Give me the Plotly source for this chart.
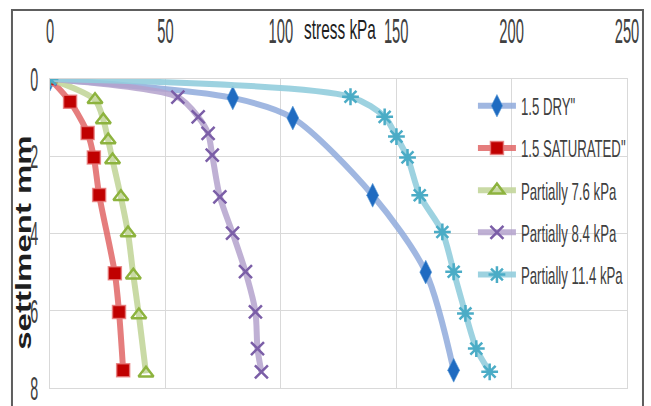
import plotly.graph_objects as go

# ---- data (stress kPa, settlement mm) ----
dry_stress = [0, 79.2, 105.2, 139.8, 162.8, 174.9]
dry_settle = [0, 0.49, 1.01, 3.01, 5.0, 7.54]

sat_stress = [0, 8.7, 16.3, 19.0, 21.3, 28.1, 29.9, 31.7]
sat_settle = [0, 0.59, 1.40, 2.03, 3.0, 5.03, 6.03, 7.54]

p76_stress = [0, 19.5, 23.1, 25.2, 27.1, 30.7, 33.8, 36.1, 38.5, 41.6]
p76_settle = [0, 0.54, 1.06, 1.58, 2.10, 3.05, 3.99, 5.08, 6.11, 7.62]

p84_stress = [0, 55.4, 64.2, 68.5, 70.3, 73.6, 79.1, 84.7, 89.0, 89.9, 91.6]
p84_settle = [0, 0.47, 0.98, 1.41, 1.97, 3.05, 3.99, 4.99, 6.03, 6.98, 7.58]

p114_stress = [0, 130.2, 145.0, 150.1, 154.9, 160.2, 170.0, 174.9, 180.0, 184.7, 190.5]
p114_settle = [0, 0.46, 0.98, 1.49, 2.03, 3.01, 3.96, 4.99, 6.07, 6.98, 7.58]

series_names = ['1.5 DRY"', '1.5 SATURATED"', 'Partially 7.6 kPa',
                'Partially 8.4 kPa', 'Partially 11.4 kPa']
x_ticks = [0, 50, 100, 150, 200, 250]
y_ticks = [0, 2, 4, 6, 8]

FONT = "Liberation Sans, Arial, sans-serif"
TXT = "#404040"
GRID = "#D9D9D9"

styles = [
    dict(line="rgba(143,170,220,0.85)", marker=dict(symbol="diamond-tall", size=17, color="#1F6BC1",
                                                    line=dict(color="rgba(91,155,213,0.6)", width=1))),
    dict(line="rgba(224,102,102,0.85)", marker=dict(symbol="square", size=13, color="#C00000",
                                                    line=dict(color="rgba(230,120,120,0.8)", width=1.5))),
    dict(line="rgba(195,214,155,0.9)", marker=dict(symbol="triangle-up-open", size=13, color="#8DB33E",
                                                   line=dict(color="#8DB33E", width=2.5))),
    dict(line="rgba(180,162,205,0.85)", marker=dict(symbol="x-thin-open", size=13, color="#7B5EA7",
                                                    line=dict(color="#7B5EA7", width=2.5))),
    dict(line="rgba(146,205,221,0.9)", marker=dict(symbol="asterisk-open", size=14, color="#4BACC6",
                                                   line=dict(color="#4BACC6", width=2.5))),
]

data = [(dry_stress, dry_settle), (sat_stress, sat_settle), (p76_stress, p76_settle),
        (p84_stress, p84_settle), (p114_stress, p114_settle)]

fig = go.Figure()
for i, ((xs, ys), name, st) in enumerate(zip(data, series_names, styles)):
    fig.add_trace(go.Scatter(
        x=xs, y=ys, name=name, mode="lines+markers",
        line=dict(color=st["line"], width=6, shape="spline", smoothing=0.8),
        marker=st["marker"], legendgroup=str(i),
    ))

fig.update_layout(
    width=651, height=406,
    margin=dict(l=50, r=24, t=79, b=18, autoexpand=False),
    paper_bgcolor="white", plot_bgcolor="white",
    font=dict(family=FONT, color=TXT),
    showlegend=True,
    legend=dict(x=0.733, y=0.985, xanchor="left", yanchor="top",
                bgcolor="rgba(0,0,0,0)", font=dict(size=24, family=FONT, color=TXT),
                tracegroupgap=8, itemwidth=38),
    xaxis=dict(side="top", range=[0, 250], tickvals=x_ticks, ticktext=[str(v) for v in x_ticks],
               showgrid=True, gridcolor=GRID, gridwidth=1, zeroline=False, automargin=False,
               showline=True, linecolor=GRID, mirror=True, ticks="", ticklabeloverflow="allow",
               tickfont=dict(size=35, family=FONT, color=TXT), ticklabelstandoff=21),
    yaxis=dict(range=[8, 0], tickvals=y_ticks, ticktext=[str(v) for v in y_ticks],
               showgrid=True, gridcolor=GRID, gridwidth=1, zeroline=False, automargin=False,
               showline=True, linecolor=GRID, mirror=True, ticks="", ticklabeloverflow="allow",
               tickfont=dict(size=34, family=FONT, color=TXT), ticklabelstandoff=4),
    annotations=[
        dict(text="stress kPa", xref="paper", yref="paper", x=0.504, y=1.158,
             showarrow=False, font=dict(size=27, family=FONT, color="#1E1E1E"),
             xanchor="center", yanchor="middle"),
        dict(text="<b>settlment mm</b>", xref="paper", yref="paper", x=-0.045, y=0.47,
             textangle=-90, showarrow=False,
             font=dict(size=33, family=FONT, color="#1E1E1E"),
             xanchor="center", yanchor="middle"),
    ],
    shapes=[
        dict(type="rect", xref="paper", yref="paper", x0=-0.0659, x1=1.0277, y0=-0.12, y1=1.223,
             line=dict(color="#5E5E5E", width=2), fillcolor="rgba(0,0,0,0)", layer="below"),
    ],
)

# The reference renders its text tall and narrow; compress text horizontally
# (in screen space) around its own anchor point. Text stays real SVG text.
post_js = r"""
(function(){
  document.documentElement.style.margin = '0';
  document.body.style.margin = '0';
  document.body.style.padding = '0';
  var gd = document.getElementById('{plot_id}');
  if (!gd) return;
  var SUF = /\s*translate\([^)]*\) scale\([^)]*\) translate\([^)]*\)\s*$/;
  function apply(sel, s, sTitle){
    gd.querySelectorAll(sel).forEach(function(t){
      var T = (t.getAttribute('transform') || '').replace(SUF, '');
      if ((t.textContent || '').indexOf('settlment') >= 0) {
        // rotated title: its local y axis is horizontal on screen
        t.setAttribute('transform', T);
        var b = t.getBBox();
        var cy = b.y + b.height / 2;
        t.setAttribute('transform', (T + ' translate(0,' + cy + ') scale(1,' + sTitle + ') translate(0,' + (-cy) + ')').trim());
        return;
      }
      var x0 = parseFloat(t.getAttribute('x')) || 0;
      t.setAttribute('transform', (T + ' translate(' + x0 + ',0) scale(' + s + ',1) translate(' + (-x0) + ',0)').trim());
    });
  }
  function squish(){
    apply('g.xtick > text, g.ytick > text', 0.42);
    apply('text.legendtext', 0.55);
    apply('text.annotation-text', 0.57, 0.66);
  }
  squish();
  if (gd.on) gd.on('plotly_afterplot', squish);
})();
"""

fig.write_html("out.html", post_script=post_js, config={"displayModeBar": False})
